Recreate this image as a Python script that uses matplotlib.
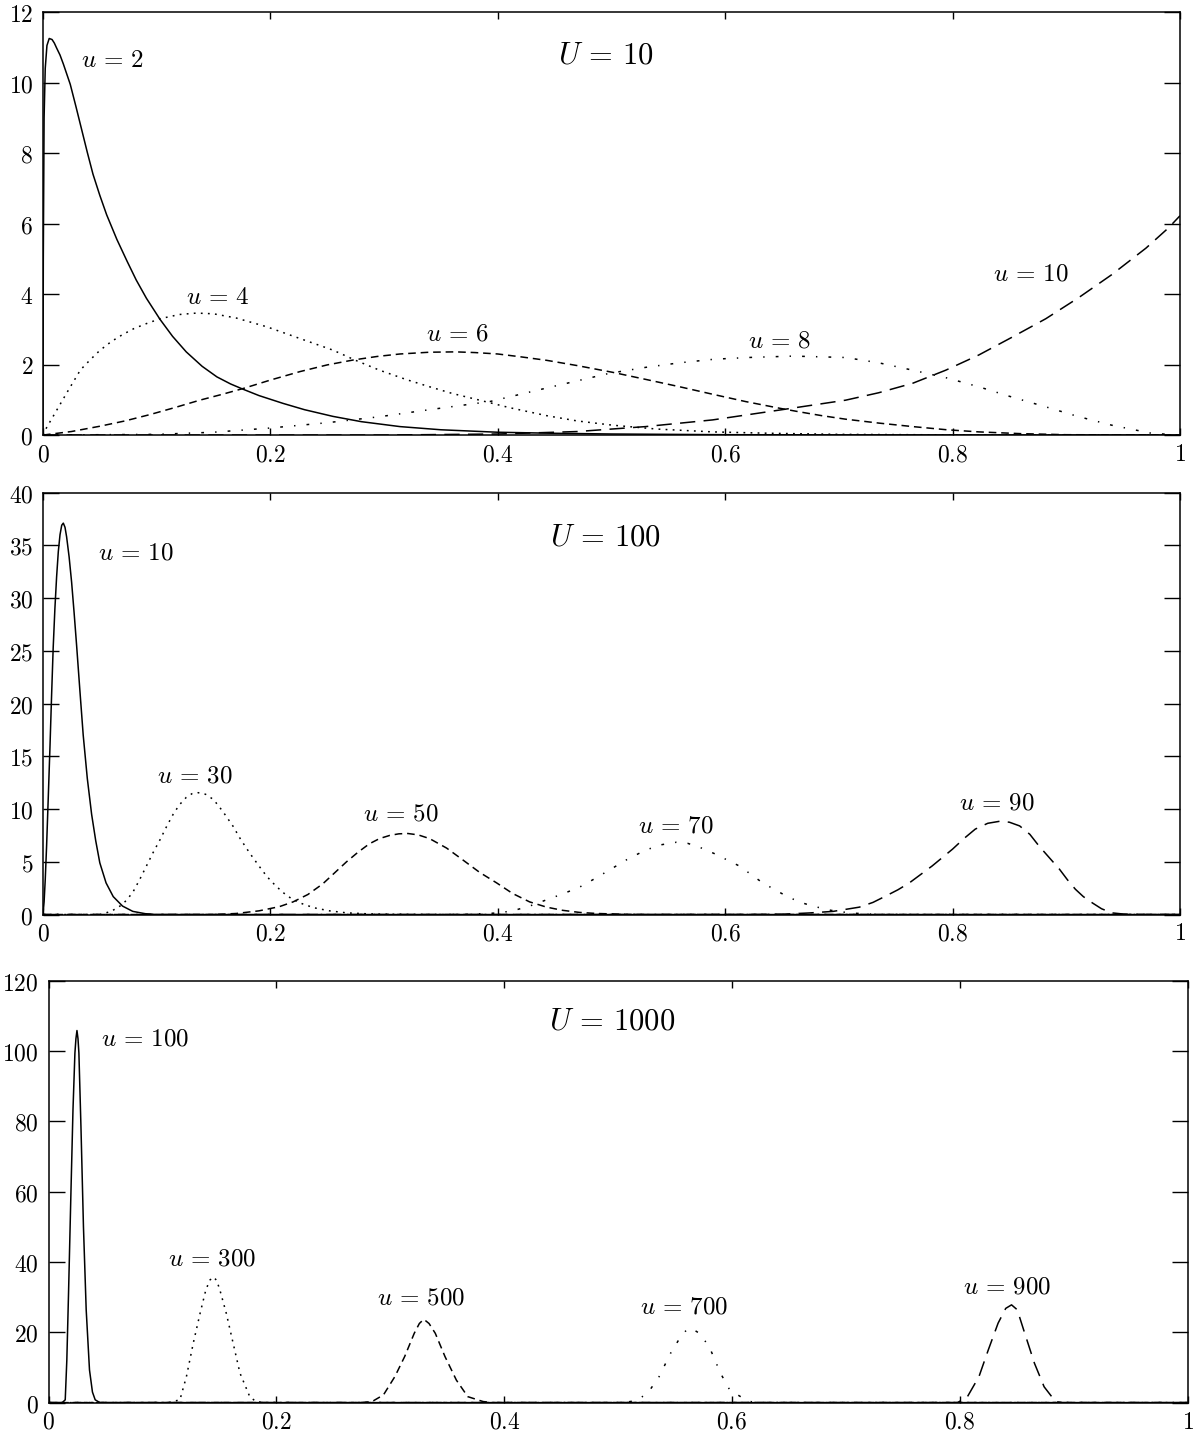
import numpy as np
import matplotlib
matplotlib.use("Agg")
import matplotlib.pyplot as plt

plt.rcParams["mathtext.fontset"] = "cm"
plt.rcParams["lines.scale_dashes"] = False

# ---- U = 10 ----
u2_x = [0, 0.0003, 0.001, 0.002, 0.0035, 0.0055, 0.008, 0.010, 0.012, 0.015, 0.018, 0.024,
        0.029, 0.034, 0.039, 0.044, 0.05, 0.056, 0.065, 0.074, 0.082, 0.091, 0.103, 0.114,
        0.126, 0.14, 0.153, 0.165, 0.176, 0.19, 0.211, 0.23, 0.255, 0.28, 0.314, 0.35, 0.4,
        0.45, 0.5, 0.6, 0.7, 1.0]
u2_y = [0, 5.0, 9.0, 10.4, 11.05, 11.25, 11.22, 11.12, 10.98, 10.78, 10.52, 9.95,
        9.32, 8.67, 8.02, 7.4, 6.8, 6.25, 5.55, 4.93, 4.4, 3.88, 3.28, 2.8,
        2.36, 1.95, 1.65, 1.45, 1.3, 1.12, 0.9, 0.72, 0.53, 0.38, 0.24, 0.15, 0.08,
        0.05, 0.03, 0.01, 0.005, 0]
u4_x = [0, 0.003, 0.012, 0.021, 0.033, 0.042, 0.05, 0.06, 0.07, 0.08, 0.09, 0.103, 0.12,
        0.135, 0.15, 0.17, 0.197, 0.225, 0.255, 0.275, 0.296, 0.32, 0.34, 0.36, 0.384,
        0.41, 0.443, 0.47, 0.501, 0.54, 0.589, 0.64, 0.7, 0.8, 1.0]
u4_y = [0, 0.2, 0.7, 1.2, 1.85, 2.15, 2.4, 2.65, 2.85, 3.02, 3.15, 3.3, 3.42,
        3.46, 3.44, 3.32, 3.07, 2.75, 2.41, 2.12, 1.84, 1.57, 1.37, 1.18, 0.99,
        0.78, 0.55, 0.4, 0.28, 0.17, 0.09, 0.05, 0.02, 0.005, 0]
u6_x = [0, 0.025, 0.05, 0.072, 0.094, 0.116, 0.138, 0.157, 0.176, 0.2, 0.226, 0.25, 0.273,
        0.294, 0.314, 0.34, 0.363, 0.38, 0.4, 0.42, 0.443, 0.47, 0.501, 0.53, 0.56, 0.59,
        0.618, 0.648, 0.665, 0.685, 0.706, 0.735, 0.765, 0.795, 0.823, 0.86, 0.9, 1.0]
u6_y = [0, 0.1, 0.25, 0.4, 0.58, 0.78, 0.99, 1.15, 1.32, 1.56, 1.8, 1.99, 2.13,
        2.23, 2.3, 2.35, 2.36, 2.34, 2.3, 2.22, 2.12, 1.97, 1.78, 1.58, 1.37, 1.15,
        0.95, 0.76, 0.66, 0.55, 0.45, 0.34, 0.24, 0.15, 0.09, 0.04, 0.01, 0]
u8_x = [0, 0.1, 0.15, 0.2, 0.25, 0.296, 0.34, 0.393, 0.445, 0.498, 0.53, 0.56, 0.59, 0.62,
        0.66, 0.706, 0.735, 0.765, 0.795, 0.823, 0.852, 0.882, 0.91, 0.94, 0.975, 1.0]
u8_y = [0, 0.02, 0.08, 0.2, 0.35, 0.52, 0.72, 0.95, 1.35, 1.75, 1.92, 2.05, 2.15, 2.2,
        2.24, 2.2, 2.05, 1.84, 1.62, 1.37, 1.08, 0.8, 0.53, 0.28, 0.05, 0]
u10_x = [0, 0.3, 0.4, 0.47, 0.53, 0.589, 0.648, 0.706, 0.735, 0.765, 0.794, 0.823, 0.852,
         0.882, 0.911, 0.94, 0.97, 0.99, 1.0]
u10_y = [0, 0, 0.03, 0.1, 0.24, 0.43, 0.71, 0.99, 1.2, 1.47, 1.84, 2.27, 2.77,
         3.3, 3.9, 4.55, 5.3, 5.88, 6.22]

# ---- U = 100 ----
v10_x = [0, 0.001, 0.002, 0.0032, 0.0047, 0.0062, 0.0076, 0.009, 0.0105, 0.012, 0.0135,
         0.015, 0.0165, 0.0179, 0.0194, 0.0208, 0.023, 0.0252, 0.0274, 0.0296, 0.0325,
         0.0354, 0.039, 0.0428, 0.0464, 0.05, 0.0555, 0.0618, 0.07, 0.079, 0.09, 0.1, 1.0]
v10_y = [0, 1.2, 3.3, 6.5, 11.2, 16, 20.8, 25.3, 29.0, 32.0, 34.4,
         36.0, 36.9, 37.1, 36.7, 35.8, 33.9, 31.5, 28.6, 25.5, 21.2,
         17.0, 12.9, 9.5, 7.0, 4.9, 3.0, 1.7, 0.8, 0.3, 0.08, 0, 0]
v30_x = [0, 0.05, 0.06, 0.0677, 0.073, 0.079, 0.085, 0.091, 0.097, 0.103, 0.109, 0.1145,
         0.12, 0.126, 0.131, 0.1365, 0.143, 0.15, 0.158, 0.167, 0.174, 0.182, 0.19, 0.197,
         0.204, 0.211, 0.218, 0.226, 0.238, 0.252, 0.267, 0.285, 0.3, 0.35, 1.0]
v30_y = [0, 0, 0.3, 0.8, 1.3, 2.1, 3.3, 4.6, 5.9, 7.1, 8.4, 9.5,
         10.4, 11.1, 11.45, 11.55, 11.4, 10.9, 9.8, 8.4, 7.1, 5.8, 4.6, 3.6,
         2.8, 2.1, 1.55, 1.1, 0.65, 0.35, 0.16, 0.07, 0.03, 0, 0]
v50_x = [0, 0.15, 0.17, 0.19, 0.208, 0.22, 0.233, 0.246, 0.257, 0.267, 0.277, 0.287, 0.296,
         0.305, 0.313, 0.321, 0.33, 0.34, 0.355, 0.369, 0.384, 0.399, 0.413, 0.428, 0.443,
         0.457, 0.472, 0.487, 0.52, 1.0]
v50_y = [0, 0, 0.1, 0.35, 0.75, 1.2, 1.9, 2.9, 4.0, 5.0, 5.9, 6.7, 7.2,
         7.5, 7.65, 7.68, 7.55, 7.2, 6.3, 5.2, 4.0, 3.0, 2.0, 1.2, 0.7,
         0.4, 0.2, 0.1, 0, 0]
v70_x = [0, 0.36, 0.38, 0.4, 0.413, 0.428, 0.443, 0.457, 0.472, 0.487, 0.501, 0.515, 0.53,
         0.543, 0.557, 0.567, 0.577, 0.59, 0.6125, 0.633, 0.653, 0.665, 0.677, 0.693, 0.709,
         0.725, 0.74, 1.0]
v70_y = [0, 0, 0.05, 0.15, 0.35, 0.8, 1.4, 1.95, 2.6, 3.5, 4.4, 5.3, 6.1,
         6.6, 6.85, 6.75, 6.4, 5.8, 4.6, 3.0, 1.8, 1.2, 0.8, 0.4, 0.16,
         0.05, 0, 0]
v90_x = [0, 0.62, 0.65, 0.674, 0.695, 0.718, 0.73, 0.741, 0.752, 0.762, 0.772, 0.782, 0.791,
         0.8, 0.81, 0.82, 0.831, 0.842, 0.85, 0.859, 0.868, 0.876, 0.885, 0.894, 0.901,
         0.908, 0.915, 0.923, 0.931, 0.94, 0.95, 0.96, 1.0]
v90_y = [0, 0, 0.03, 0.15, 0.3, 0.7, 1.15, 1.74, 2.35, 3.0, 3.8, 4.6, 5.4,
         6.2, 7.2, 8.1, 8.65, 8.85, 8.75, 8.4, 7.6, 6.5, 5.4, 4.3, 3.3,
         2.4, 1.7, 1.1, 0.55, 0.16, 0.05, 0, 0]

# ---- U = 1000 ----
w100_x = [0, 0.012, 0.0146, 0.016, 0.0175, 0.0196, 0.0214, 0.0231, 0.024, 0.0249, 0.0258,
          0.0266, 0.0284, 0.0306, 0.033, 0.0359, 0.0385, 0.0409, 0.045, 1.0]
w100_y = [0, 0, 0.8, 12.1, 31.1, 59.6, 83.2, 99.4, 103.5, 105.8, 103.5,
          99.4, 78.5, 50, 26.4, 9.3, 3.0, 0.8, 0, 0]
w300_x = [0, 0.105, 0.1153, 0.121, 0.127, 0.133, 0.138, 0.1415, 0.1445, 0.1475, 0.1504,
          0.156, 0.162, 0.168, 0.1766, 0.182, 0.19, 1.0]
w300_y = [0, 0, 0.8, 7.4, 16.9, 25.4, 32, 34.8, 35.7, 34.8, 32,
          25.4, 16.9, 8.4, 1.7, 0.3, 0, 0]
w500_x = [0, 0.275, 0.284, 0.294, 0.304, 0.3126, 0.321, 0.3255, 0.3294, 0.334, 0.3395,
          0.348, 0.358, 0.368, 0.3815, 0.39, 1.0]
w500_y = [0, 0, 0.3, 2.2, 7.4, 13.1, 19.7, 22.5, 23.7, 22.5, 19.7,
          13.1, 6.4, 1.7, 0.3, 0, 0]
w700_x = [0, 0.505, 0.516, 0.526, 0.536, 0.546, 0.555, 0.5613, 0.566, 0.5714, 0.58, 0.59,
          0.598, 0.613, 0.62, 1.0]
w700_y = [0, 0, 0.6, 2.7, 7.4, 14, 18.8, 21.1, 20.8, 19.7, 15.9, 8.3,
          3.6, 0.6, 0, 0]
w900_x = [0, 0.79, 0.798, 0.8067, 0.8168, 0.825, 0.8336, 0.8403, 0.8454, 0.8504, 0.857,
          0.8655, 0.874, 0.884, 0.89, 1.0]
w900_y = [0, 0, 0, 1.7, 7.4, 15, 22.6, 26.8, 27.8, 26.4, 19.7, 11.2, 4.5, 0.3, 0, 0]

# curve labels: (text, x, y)
labels1 = [("2", 0.0615, 10.64), ("4", 0.154, 3.91), ("6", 0.365, 2.87), ("8", 0.648, 2.67),
           ("10", 0.869, 4.57)]
labels2 = [("10", 0.0817, 34.3), ("30", 0.1336, 13.2), ("50", 0.3146, 9.56), ("70", 0.557, 8.4),
           ("90", 0.839, 10.6)]
labels3 = [("100", 0.0847, 103.6), ("300", 0.1437, 40.9), ("500", 0.327, 30.0),
           ("700", 0.558, 27.4), ("900", 0.8413, 33.0)]

xticks = [0, 0.2, 0.4, 0.6, 0.8, 1]
xtick_labels = ["0", "0.2", "0.4", "0.6", "0.8", "1"]

styles = [
    dict(linestyle="-"),
    dict(dashes=(1.3, 3.8)),
    dict(dashes=(5.5, 3.5)),
    dict(dashes=(2.0, 8.0, 1.0, 8.0)),
    dict(dashes=(11, 6)),
]

panels = [
    dict(rect=[0.0358, 0.6964, 0.9475, 0.2952], ymax=12, ystep=2, title="10", ty=10.78,
         curves=[(u2_x, u2_y), (u4_x, u4_y), (u6_x, u6_y), (u8_x, u8_y), (u10_x, u10_y)],
         labels=labels1),
    dict(rect=[0.0358, 0.3618, 0.9475, 0.2945], ymax=40, ystep=5, title="100", ty=35.8,
         curves=[(v10_x, v10_y), (v30_x, v30_y), (v50_x, v50_y), (v70_x, v70_y), (v90_x, v90_y)],
         labels=labels2),
    dict(rect=[0.0405, 0.0212, 0.9492, 0.2945], ymax=120, ystep=20, title="1000", ty=108.6,
         curves=[(w100_x, w100_y), (w300_x, w300_y), (w500_x, w500_y), (w700_x, w700_y),
                 (w900_x, w900_y)],
         labels=labels3),
]

fig = plt.figure(figsize=(12, 14.33), dpi=100)

for p in panels:
    ax = fig.add_axes(p["rect"])
    for (cx, cy), st in zip(p["curves"], styles):
        ax.plot(cx, cy, color="black", linewidth=1.1, **st)
    for txt, lx, ly in p["labels"]:
        ax.text(lx, ly, r"$u\,=\,%s$" % txt, ha="center", va="center", fontsize=18)
    ax.text(0.495, p["ty"], r"$U\,=\,%s$" % p["title"], ha="center", va="center", fontsize=22)

    ax.set_xlim(0, 1)
    ax.set_ylim(0, p["ymax"])
    ax.set_xticks(xticks, ["$%s$" % t for t in xtick_labels])
    yt = np.arange(0, p["ymax"] + 1, p["ystep"])
    ax.set_yticks(yt, ["$%d$" % t for t in yt])
    ax.tick_params(axis="both", direction="in", top=True, right=True, labelsize=17, width=1.0)
    ax.tick_params(axis="y", length=11.5, pad=7)
    ax.tick_params(axis="x", length=5, pad=5)
    for s in ax.spines.values():
        s.set_linewidth(1.1)

fig.savefig("out.png", dpi=100)
